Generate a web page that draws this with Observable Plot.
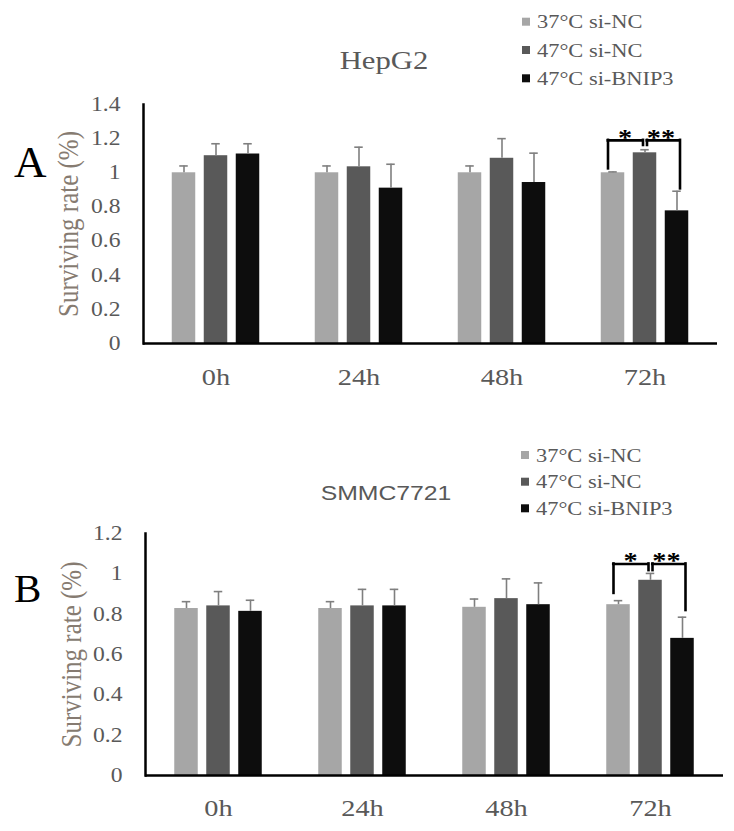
<!DOCTYPE html>
<html><head><meta charset="utf-8">
<script src="https://cdn.jsdelivr.net/npm/d3@7"></script>
<script src="https://cdn.jsdelivr.net/npm/@observablehq/plot@0.6"></script>
<style>
body{margin:0;background:#fff;}
#root{position:relative;width:734px;height:831px;overflow:hidden;font-family:"Liberation Serif","Times New Roman",serif;}
.panel{position:absolute;left:0;width:734px;}
.panel > svg{position:absolute;left:0;top:0;}
.panel svg text{font-family:"Liberation Serif","Times New Roman",serif;}
.panel svg text.sans{font-family:"Liberation Sans",Arial,sans-serif;}
</style></head><body><div id="root"></div>
<script>
// ---------- data ----------
const times = ["0h", "24h", "48h", "72h"];
const groups = ["37°C si-NC", "47°C si-NC", "47°C si-BNIP3"];
const colors = ["#a6a6a6", "#595959", "#0d0d0d"];
const yLabel = "Surviving rate (%)";

const hepg2Title = "HepG2";
const hepg2Means = [
  [1.00, 1.00, 1.00, 1.00],
  [1.10, 1.035, 1.085, 1.117],
  [1.11, 0.91, 0.943, 0.777]
];
const hepg2Errors = [
  [0.04, 0.04, 0.04, 0.005],
  [0.07, 0.115, 0.115, 0.018],
  [0.06, 0.14, 0.172, 0.115]
];
const hepg2YTicks = [0, 0.2, 0.4, 0.6, 0.8, 1, 1.2, 1.4];
const hepg2Sig = [
  {time: "72h", from: 0, to: 1, label: "*", top: 1.19, fromEnd: 1.023, toEnd: 1.16, labelY: 1.207},
  {time: "72h", from: 1, to: 2, label: "**", top: 1.19, fromEnd: 1.16, toEnd: 0.906, labelY: 1.207}
];

const smmcTitle = "SMMC7721";
const smmcMeans = [
  [0.828, 0.828, 0.834, 0.847],
  [0.841, 0.841, 0.877, 0.968],
  [0.814, 0.841, 0.847, 0.680]
];
const smmcErrors = [
  [0.034, 0.034, 0.041, 0.02],
  [0.071, 0.082, 0.098, 0.034],
  [0.055, 0.082, 0.108, 0.105]
];
const smmcYTicks = [0, 0.2, 0.4, 0.6, 0.8, 1, 1.2];
const smmcSig = [
  {time: "72h", from: 0, to: 1, label: "*", top: 1.049, fromEnd: 0.903, toEnd: 1.016, labelY: 1.065},
  {time: "72h", from: 1, to: 2, label: "**", top: 1.049, fromEnd: 1.016, toEnd: 0.818, labelY: 1.065}
];

// ---------- layout ----------
const W = 734;
const serif = "'Liberation Serif', 'Times New Roman', serif";
const stretch = 1.18; // the source image is horizontally stretched
const groupOffsets = [-32, 0, 32];
const barWidth = 24;
const capWidth = 9;
const legNudge = [[-5, -2], [2, 3]];
const starShift = [-4, 0];
const svgNS = "http://www.w3.org/2000/svg";

function makeRows(means, errors) {
  const rows = [];
  groups.forEach((g, gi) => times.forEach((t, ti) => rows.push({group: g, gi, time: t, value: means[gi][ti], err: errors[gi][ti]})));
  return rows;
}

// widen glyphs horizontally without moving their anchor points
function stretchTexts(svg) {
  svg.querySelectorAll("text").forEach(t => {
    let tr = t.getAttribute("transform");
    if (!tr) {
      const x = t.getAttribute("x") || 0, y = t.getAttribute("y") || 0;
      tr = `translate(${x},${y})`;
      t.setAttribute("x", 0);
      t.setAttribute("y", 0);
    }
    tr += /rotate\(/.test(tr) ? ` scale(1,${stretch})` : ` scale(${stretch},1)`;
    t.setAttribute("transform", tr);
  });
}

function buildPanel(cfg) {
  const {top, height, ml, mr, mt, mb, yMax, ticks, means, errors, sig, letter, title} = cfg;
  const rows = makeRows(means, errors);
  const bw = (W - ml - mr) / times.length;
  const barInset = (bw - barWidth) / 2;
  const capInset = (bw - capWidth) / 2;

  const marks = [
    Plot.axisY({ticks, tickSize: 0, tickPadding: 23, fontSize: 20, fontFamily: serif, color: "#595959", tickFormat: d => String(d), label: null}),
    Plot.axisX({tickSize: 0, tickPadding: cfg.xPad, fontSize: 24, fontFamily: serif, color: "#595959", label: null})
  ];
  groups.forEach((g, gi) => {
    const sub = rows.filter(d => d.gi === gi);
    marks.push(Plot.barY(sub, {x: "time", y: "value", fill: colors[gi], dx: groupOffsets[gi], insetLeft: barInset, insetRight: barInset}));
    marks.push(Plot.ruleX(sub, {x: "time", y1: "value", y2: d => d.value + d.err, dx: groupOffsets[gi], stroke: "#7f7f7f", strokeWidth: 1.6}));
    marks.push(Plot.tickY(sub, {x: "time", y: d => d.value + d.err, dx: groupOffsets[gi], insetLeft: capInset, insetRight: capInset, stroke: "#7f7f7f", strokeWidth: 1.6}));
  });
  marks.push(Plot.ruleY([0], {stroke: "#000", strokeWidth: 2.5}));
  marks.push(Plot.frame({anchor: "left", stroke: "#000", strokeWidth: 2.5}));
  sig.forEach((s, si) => {
    const xl = groupOffsets[s.from] + legNudge[si][0];
    const xr = groupOffsets[s.to] + legNudge[si][1];
    const style = {stroke: "#000", strokeWidth: 2.6, strokeLinecap: "square"};
    marks.push(Plot.ruleX([s], {x: "time", y1: "fromEnd", y2: "top", dx: xl, ...style}));
    marks.push(Plot.ruleX([s], {x: "time", y1: "toEnd", y2: "top", dx: xr, ...style}));
    marks.push(Plot.tickY([s], {x: "time", y: "top", insetLeft: bw / 2 + xl, insetRight: bw / 2 - xr, ...style}));
    marks.push(Plot.text([s], {x: "time", y: "labelY", text: "label", dx: (groupOffsets[s.from] + groupOffsets[s.to]) / 2 + starShift[si], fontSize: 24, fontWeight: "bold", fontFamily: serif, fill: "#000"}));
  });
  marks.push(Plot.text([yLabel], {frameAnchor: "left", textAnchor: "middle", lineAnchor: "middle", rotate: -90, dx: cfg.yLabelDx, fontSize: 25, fontFamily: serif, fill: "#867b71"}));

  const chart = Plot.plot({
    width: W, height,
    marginLeft: ml, marginRight: mr, marginTop: mt, marginBottom: mb,
    x: {domain: times, padding: 0},
    y: {domain: [0, yMax]},
    style: {fontFamily: serif, background: "transparent", overflow: "visible"},
    marks
  });
  stretchTexts(chart);

  const div = document.createElement("div");
  div.className = "panel";
  div.style.top = top + "px";
  div.style.height = height + "px";
  div.appendChild(chart);

  // overlay: title, legend, panel letter
  const ov = document.createElementNS(svgNS, "svg");
  ov.setAttribute("width", W);
  ov.setAttribute("height", height);
  const addText = (str, x, y, attrs, cls, sx) => {
    const t = document.createElementNS(svgNS, "text");
    t.textContent = str;
    t.setAttribute("transform", `translate(${x},${y}) scale(${sx},1)`);
    if (cls) t.setAttribute("class", cls);
    for (const k in attrs) t.setAttribute(k, attrs[k]);
    ov.appendChild(t);
  };
  addText(title.text, title.x, title.y, {"text-anchor": "middle", "font-size": title.size, fill: "#595959"}, title.cls, stretch);
  addText(letter.text, letter.x, letter.y, {"font-size": letter.size, fill: "#000"}, null, 1);
  groups.forEach((g, gi) => {
    const cy = cfg.legend.rows[gi];
    const r = document.createElementNS(svgNS, "rect");
    r.setAttribute("x", cfg.legend.x);
    r.setAttribute("y", cy - 4);
    r.setAttribute("width", 8);
    r.setAttribute("height", 8);
    r.setAttribute("fill", colors[gi]);
    ov.appendChild(r);
    addText(g, cfg.legend.x + 15, cy + 6.5, {"font-size": cfg.legend.size, fill: "#595959"}, null, stretch);
  });
  div.appendChild(ov);
  document.getElementById("root").appendChild(div);
}

buildPanel({
  top: 0, height: 420, ml: 143, mr: 17, mt: 104, mb: 77, yMax: 1.4, ticks: hepg2YTicks,
  means: hepg2Means, errors: hepg2Errors, sig: hepg2Sig, xPad: 24, yLabelDx: -75,
  title: {text: hepg2Title, x: 384, y: 69, size: 26},
  letter: {text: "A", x: 14, y: 177, size: 45},
  legend: {x: 522, rows: [21.7, 50, 78.3], size: 19}
});
buildPanel({
  top: 420, height: 411, ml: 145, mr: 11, mt: 113, mb: 56, yMax: 1.2, ticks: smmcYTicks,
  means: smmcMeans, errors: smmcErrors, sig: smmcSig, xPad: 23, yLabelDx: -74,
  title: {text: smmcTitle, x: 386, y: 80, size: 21, cls: "sans"},
  letter: {text: "B", x: 14, y: 182, size: 41},
  legend: {x: 521, rows: [35, 61.7, 88.3], size: 19}
});
</script></body></html>
